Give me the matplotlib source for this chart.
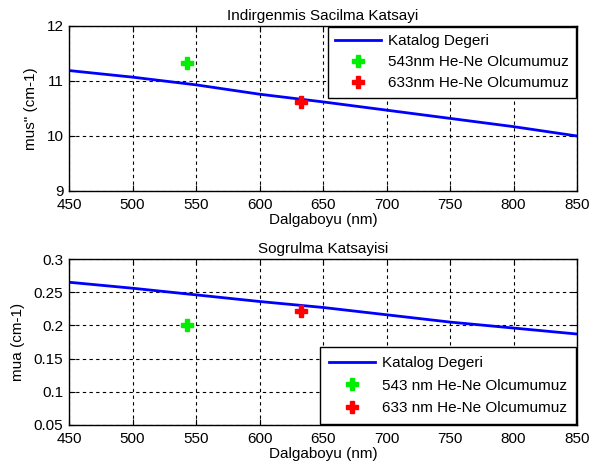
import matplotlib
matplotlib.use('Agg')
import matplotlib.pyplot as plt

plt.rcParams['font.family'] = ['Liberation Sans', 'DejaVu Sans']
plt.rcParams['font.size'] = 11

# catalog values every 50 nm
wavelength = [450, 500, 550, 600, 650, 700, 750, 800, 850]
mus_catalog = [11.19, 11.07, 10.93, 10.76, 10.62, 10.47, 10.32, 10.17, 10.0]
mua_catalog = [0.265, 0.256, 0.246, 0.236, 0.227, 0.216, 0.205, 0.196, 0.187]

# our He-Ne measurements
meas_wl = [543, 633]
mus_meas = [11.32, 10.62]
mua_meas = [0.200, 0.221]

xticks = [450, 500, 550, 600, 650, 700, 750, 800, 850]
mus_ticks = [9, 10, 11, 12]
mua_ticks = [0.05, 0.1, 0.15, 0.2, 0.25, 0.3]
mua_ticklabels = ['0.05', '0.1', '0.15', '0.2', '0.25', '0.3']

fig = plt.figure(figsize=(6, 4.71), dpi=100)
ax1 = fig.add_axes([0.115, 0.5945, 0.8467, 0.3503])
ax2 = fig.add_axes([0.115, 0.0977, 0.8467, 0.3524])

def style(ax):
    ax.set_xlim(450, 850)
    ax.set_xticks(xticks)
    ax.grid(True, color='black', linestyle=(0, (3, 3)), linewidth=0.8)
    ax.tick_params(direction='in', top=True, right=True, length=4, width=0.8, pad=4)
    ax.tick_params(axis='x', pad=5)
    for s in ax.spines.values():
        s.set_linewidth(1.0)
    ax.set_xlabel('Dalgaboyu (nm)', labelpad=1)

def add_legend(ax, loc, anchor, spacing, pad):
    leg = ax.legend(loc=loc, bbox_to_anchor=anchor, borderaxespad=0.05,
                    fancybox=False, edgecolor='black', framealpha=1,
                    handlelength=3.0, handletextpad=0.45, labelspacing=spacing,
                    borderpad=pad, fontsize=11)
    leg.get_frame().set_linewidth(1.0)

# upper panel: reduced scattering
ax1.plot(wavelength, mus_catalog, color='blue', lw=2, label='Katalog Degeri')
ax1.plot(meas_wl[0], mus_meas[0], 'P', color='#00ee00', ms=8, lw=0, label='543nm He-Ne Olcumumuz')
ax1.plot(meas_wl[1], mus_meas[1], 'P', color='red', ms=8, lw=0, label='633nm He-Ne Olcumumuz')
ax1.set_ylim(9, 12)
ax1.set_yticks(mus_ticks)
style(ax1)
ax1.set_ylabel('mus" (cm-1)', labelpad=6)
ax1.set_title('Indirgenmis Sacilma Katsayi', fontsize=11, pad=4)
add_legend(ax1, 'upper right', (1, 1), 0.45, 0.5)

# lower panel: absorption
ax2.plot(wavelength, mua_catalog, color='blue', lw=2, label='Katalog Degeri')
ax2.plot(meas_wl[0], mua_meas[0], 'P', color='#00ee00', ms=8, lw=0, label='543 nm He-Ne Olcumumuz')
ax2.plot(meas_wl[1], mua_meas[1], 'P', color='red', ms=8, lw=0, label='633 nm He-Ne Olcumumuz')
ax2.set_ylim(0.05, 0.3)
ax2.set_yticks(mua_ticks)
ax2.set_yticklabels(mua_ticklabels)
style(ax2)
ax2.set_ylabel('mua (cm-1)', labelpad=6)
ax2.set_title('Sogrulma Katsayisi', fontsize=11, pad=4)
add_legend(ax2, 'lower right', (1, 0), 0.55, 0.6)

plt.savefig('out.png', dpi=100)
